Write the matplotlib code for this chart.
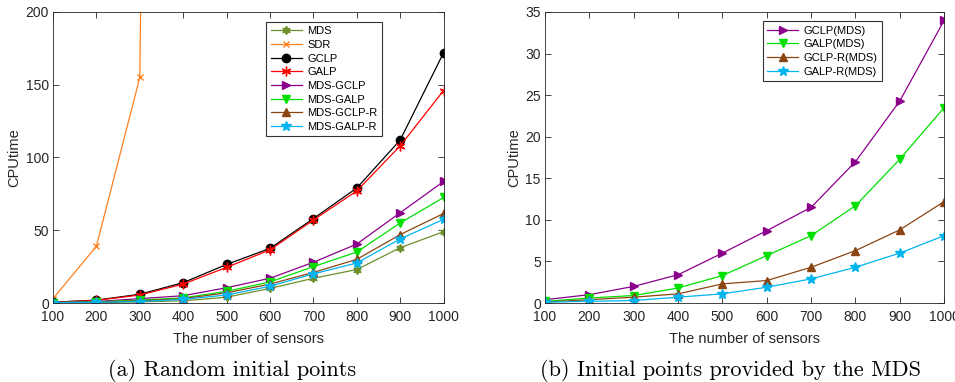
import matplotlib.pyplot as plt
import numpy as np

plt.rcParams["font.family"] = ["Liberation Sans", "DejaVu Sans"]

sensors = [100, 200, 300, 400, 500, 600, 700, 800, 900, 1000]

# (a) random initial points
mds = [0.1, 0.3, 0.8, 1.5, 4.0, 10.0, 17.0, 23.0, 38.0, 49.0]
sdr = [3.0, 39.0, 155.0, 2600.0]
gclp = [0.5, 2.0, 6.0, 14.0, 26.5, 37.5, 58.0, 79.0, 112.0, 172.0]
galp = [0.5, 1.8, 5.5, 13.0, 24.5, 36.5, 57.0, 77.0, 108.0, 146.0]
mds_gclp = [0.5, 1.0, 3.0, 5.0, 10.5, 17.0, 28.0, 40.5, 62.0, 83.5]
mds_galp = [0.3, 0.8, 2.0, 3.5, 8.0, 14.5, 25.0, 35.0, 55.0, 72.5]
mds_gclp_r = [0.3, 0.6, 1.5, 3.0, 7.0, 13.0, 21.0, 30.0, 47.0, 61.5]
mds_galp_r = [0.2, 0.5, 1.0, 2.5, 5.5, 11.5, 20.0, 27.5, 44.0, 57.5]

# (b) initial points from MDS
gclp_m = [0.4, 1.0, 2.0, 3.4, 6.0, 8.7, 11.5, 17.0, 24.3, 34.0]
galp_m = [0.2, 0.6, 0.9, 1.8, 3.3, 5.7, 8.1, 11.7, 17.3, 23.5]
gclp_r_m = [0.1, 0.4, 0.7, 1.1, 2.3, 2.7, 4.3, 6.3, 8.8, 12.2]
galp_r_m = [0.1, 0.2, 0.3, 0.7, 1.1, 1.9, 2.9, 4.3, 6.0, 8.1]

C_MDS = "#6e8f2a"
C_SDR = "#ff8020"
C_GCLP = "black"
C_GALP = "red"
C_PUR = "#8b008b"
C_GRN = "#00e000"
C_BRN = "#8b4513"
C_BLU = "#00b4f0"

ASTER = (6, 2, 0)
HEXAGRAM = (6, 1, 0)

fig = plt.figure(figsize=(9.55, 3.82), dpi=100)
ax1 = fig.add_axes([0.0555, 0.2068, 0.409, 0.762])
ax2 = fig.add_axes([0.5707, 0.2068, 0.418, 0.762])

lw = 0.9
ms = 6

ax1.plot(sensors, mds, color=C_MDS, marker=HEXAGRAM, ms=6, lw=lw, label="MDS")
ax1.plot(sensors[:len(sdr)], sdr, color=C_SDR, marker="x", ms=5, lw=lw, label="SDR")
ax1.plot(sensors, gclp, color=C_GCLP, marker="o", ms=6, lw=lw, label="GCLP")
ax1.plot(sensors, galp, color=C_GALP, marker=ASTER, ms=7, lw=lw, label="GALP")
ax1.plot(sensors, mds_gclp, color=C_PUR, marker=">", ms=ms, lw=lw, label="MDS-GCLP")
ax1.plot(sensors, mds_galp, color=C_GRN, marker="v", ms=ms, lw=lw, label="MDS-GALP")
ax1.plot(sensors, mds_gclp_r, color=C_BRN, marker="^", ms=ms, lw=lw, label="MDS-GCLP-R")
ax1.plot(sensors, mds_galp_r, color=C_BLU, marker="*", ms=7, lw=lw, label="MDS-GALP-R")
ax1.set_ylim(0, 200)
ax1.set_yticks([0, 50, 100, 150, 200])

ax2.plot(sensors, gclp_m, color=C_PUR, marker=">", ms=ms, lw=lw, label="GCLP(MDS)")
ax2.plot(sensors, galp_m, color=C_GRN, marker="v", ms=ms, lw=lw, label="GALP(MDS)")
ax2.plot(sensors, gclp_r_m, color=C_BRN, marker="^", ms=ms, lw=lw, label="GCLP-R(MDS)")
ax2.plot(sensors, galp_r_m, color=C_BLU, marker="*", ms=7, lw=lw, label="GALP-R(MDS)")
ax2.set_ylim(0, 35)
ax2.set_yticks([0, 5, 10, 15, 20, 25, 30, 35])

for ax in (ax1, ax2):
    ax.set_xlim(100, 1000)
    ax.set_xticks(sensors)
    ax.tick_params(direction="in", top=True, right=True, labelsize=10,
                   colors="#262626", length=4, width=0.6)
    ax.tick_params(axis="x", pad=5)
    ax.tick_params(axis="y", pad=3)
    for s in ax.spines.values():
        s.set_color("#262626")
        s.set_linewidth(0.6)
    ax.set_xlabel("The number of sensors", fontsize=10.5, color="#262626", labelpad=6)
    ax.set_ylabel("CPUtime", fontsize=10.5, color="#262626", labelpad=3)

leg_kw = dict(loc="upper right", fontsize=8, frameon=True, fancybox=False,
              edgecolor="black", handlelength=2.8, borderpad=0.4,
              labelspacing=0.33, handletextpad=0.5, borderaxespad=0)
leg1 = ax1.legend(bbox_to_anchor=(0.843, 0.966), **leg_kw)
leg1.get_frame().set_linewidth(0.8)
leg2 = ax2.legend(bbox_to_anchor=(0.845, 0.968), **leg_kw)
leg2.get_frame().set_linewidth(0.8)

fig.text(0.243, 0.015, "(a) Random initial points", ha="center", fontsize=16,
         family=["cmr10", "DejaVu Serif"])
fig.text(0.765, 0.015, "(b) Initial points provided by the MDS", ha="center",
         fontsize=16, family=["cmr10", "DejaVu Serif"])

fig.savefig("out.png", dpi=100)
